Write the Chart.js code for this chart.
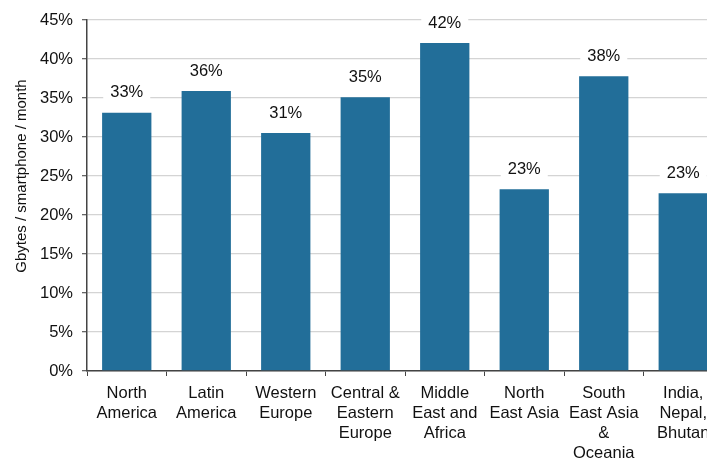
<!DOCTYPE html>
<html>
<head>
<meta charset="utf-8">
<script src="https://cdn.jsdelivr.net/npm/chart.js@4/dist/chart.umd.min.js"></script>
<style>
  html, body { margin: 0; padding: 0; background: #fff; overflow: hidden; }
  #wrap { width: 725px; height: 459px; }
</style>
</head>
<body>
<div id="wrap"><canvas id="c" width="725" height="459"></canvas></div>
<script>
// Regions (multi-line axis labels)
const regions = [
  ['North', 'America'],
  ['Latin', 'America'],
  ['Western', 'Europe'],
  ['Central &', 'Eastern', 'Europe'],
  ['Middle', 'East and', 'Africa'],
  ['North', 'East Asia'],
  ['South', 'East Asia', '&', 'Oceania'],
  ['India,', 'Nepal,', 'Bhutan']
];
// Growth per region, percent
const growth = [33.1, 35.9, 30.5, 35.1, 42.05, 23.3, 37.8, 22.8];
// Y axis ticks, percent
const yTicks = [0, 5, 10, 15, 20, 25, 30, 35, 40, 45];
const yTitle = 'Gbytes / smartphone / month';

const FONT = 'Liberation Sans, Arial, sans-serif';

// Value labels above each bar on a white backing so the grid lines break behind them
const valueLabels = {
  id: 'valueLabels',
  afterDatasetsDraw(chart) {
    const ctx = chart.ctx;
    const meta = chart.getDatasetMeta(0);
    ctx.save();
    ctx.font = '16.5px ' + FONT;
    ctx.textAlign = 'center';
    ctx.textBaseline = 'middle';
    meta.data.forEach((bar, i) => {
      const text = Math.round(growth[i]) + '%';
      const y = bar.y - 20;
      const w = ctx.measureText(text).width + 14;
      ctx.fillStyle = '#fff';
      ctx.fillRect(bar.x - w / 2, y - 9, w, 18);
      ctx.fillStyle = '#111';
      ctx.fillText(text, bar.x, y);
    });
    ctx.restore();
  }
};

// Vertical axis title, placed a little above the plot's centre
const axisTitle = {
  id: 'axisTitle',
  afterDraw(chart) {
    const ctx = chart.ctx;
    ctx.save();
    ctx.font = '15px ' + FONT;
    ctx.fillStyle = '#111';
    ctx.textAlign = 'center';
    ctx.textBaseline = 'middle';
    ctx.translate(22, 176);
    ctx.rotate(-Math.PI / 2);
    ctx.fillText(yTitle, 0, 0);
    ctx.restore();
  }
};

new Chart(document.getElementById('c'), {
  type: 'bar',
  data: {
    labels: regions,
    datasets: [{
      data: growth,
      backgroundColor: '#226e99',
      borderWidth: 0,
      barPercentage: 0.62,
      categoryPercentage: 1.0
    }]
  },
  options: {
    responsive: false,
    animation: false,
    devicePixelRatio: 1,
    layout: { padding: { left: 0, right: 2, top: 20, bottom: 0 } },
    plugins: {
      legend: { display: false },
      tooltip: { enabled: false }
    },
    scales: {
      x: {
        afterFit(s) { s.height = 88; },
        grid: {
          drawOnChartArea: false,
          drawTicks: true,
          tickLength: 5,
          tickColor: '#444',
          offset: true
        },
        border: { color: '#444', width: 1.5 },
        ticks: {
          color: '#111',
          padding: 8,
          maxRotation: 0,
          autoSkip: false,
          font: { family: FONT, size: 16.5, lineHeight: 1.2 }
        }
      },
      y: {
        min: 0,
        max: 45,
        afterFit(s) { s.width = 87; },
        afterBuildTicks(s) { s.ticks = yTicks.map(v => ({ value: v })); },
        grid: {
          color: '#d4d4d4',
          lineWidth: 1.3,
          tickLength: 5,
          tickColor: '#666'
        },
        border: { color: '#444', width: 1.5 },
        ticks: {
          color: '#111',
          padding: 9,
          font: { family: FONT, size: 16.5 },
          callback: v => v + '%'
        }
      }
    }
  },
  plugins: [valueLabels, axisTitle]
});
</script>
</body>
</html>
